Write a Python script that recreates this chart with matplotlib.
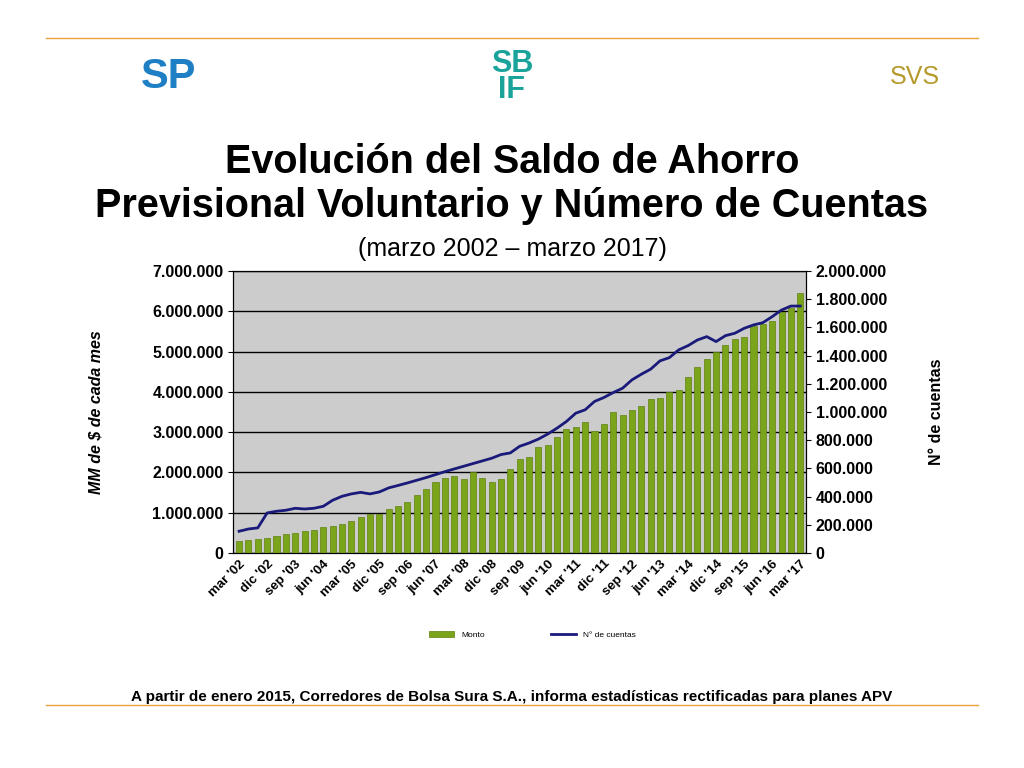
import matplotlib
matplotlib.use("Agg")
import matplotlib.pyplot as plt
import numpy as np
plt.rcParams["font.family"] = "Liberation Sans"

monto = [0.29,0.31,0.35,0.36,0.42,0.47,0.50,0.54,0.58,0.64,0.66,0.71,0.79,0.90,0.97,0.98,
         1.10,1.16,1.26,1.44,1.58,1.76,1.86,1.91,1.84,2.02,1.86,1.76,1.84,2.08,2.33,
         2.38,2.63,2.69,2.87,3.09,3.14,3.26,3.02,3.21,3.49,3.43,3.56,3.66,3.83,3.86,3.99,
         4.05,4.36,4.63,4.81,4.98,5.17,5.31,5.36,5.64,5.68,5.76,5.99,6.09,6.46]
monto = [v*1e6 for v in monto]
cuentas = [154,170,178,284,296,303,317,312,317,331,374,402,419,430,419,433,462,479,497,516,
           535,556,577,596,615,634,653,672,698,710,
           757,780,808,844,886,933,992,1016,1075,1103,1138,1169,1228,1268,1304,1363,1386,
           1441,1471,1511,1535,1500,1542,1559,1594,1618,1634,1677,1724,1752,1752]
cuentas = [v*1e3 for v in cuentas]
months = ["mar","jun","sep","dic"]
labels = [f"{months[i%4]} '{(2+i//4):02d}" for i in range(len(monto))]

def fmt(v):
    return f"{int(v):,}".replace(",", ".")

fig = plt.figure(figsize=(10.24,7.68), dpi=100)
fig.add_artist(plt.Line2D([0.045,0.955],[0.951,0.951],color="#e8a33a",lw=1))
fig.add_artist(plt.Line2D([0.045,0.955],[0.082,0.082],color="#e8a33a",lw=1))
fig.text(0.165,0.9,"SP",fontsize=30,fontweight="bold",color="#1f7fc4",ha="center",va="center")
fig.text(0.5,0.9,"SB\nIF",fontsize=22,fontweight="bold",color="#1aa39b",ha="center",va="center",linespacing=0.8)
fig.text(0.893,0.9,"SVS",fontsize=18,color="#b59a2a",ha="center",va="center")
fig.text(0.5,0.761,"Evolución del Saldo de Ahorro\nPrevisional Voluntario y Número de Cuentas",
         fontsize=28.5,fontweight="bold",ha="center",va="center",linespacing=1.2)
fig.text(0.5,0.676,"(marzo 2002 – marzo 2017)",fontsize=18,ha="center",va="center")
fig.text(0.5,0.092,"A partir de enero 2015, Corredores de Bolsa Sura S.A., informa estadísticas rectificadas para planes APV",
         fontsize=11,fontweight="bold",ha="center",va="center")

ax = fig.add_axes([0.228,0.28,0.559,0.367])
ax.set_facecolor("#cccccc")
x = np.arange(len(monto))
ax.bar(x, monto, width=0.65, color="#7aa51a", edgecolor="#5f8010", lw=0.5, label="Monto", zorder=3)
ax.set_ylim(0,7e6)
ax.set_xlim(-0.6,len(monto)-0.4)
ax.set_yticks(np.arange(0,7.01e6,1e6))
ax.set_yticklabels([fmt(v) for v in np.arange(0,7.01e6,1e6)],fontsize=11.5,fontweight="bold")
ax.grid(axis="y",color="black",lw=1,zorder=1)
ax.set_xticks(x[::3])
ax.set_xticklabels(labels[::3],rotation=45,ha="right",fontsize=9.5,fontweight="bold",rotation_mode="anchor")
ax.tick_params(axis="x",length=0)
ax.set_ylabel("MM de $ de cada mes",fontsize=11.5,fontweight="bold",style="italic",labelpad=35)
ax2 = ax.twinx()
ax2.plot(x, cuentas, color="#1a1a7a", lw=2, label="N° de cuentas")
ax2.set_ylim(0,2e6)
ax2.set_yticks(np.arange(0,2.01e6,2e5))
ax2.set_yticklabels([fmt(v) for v in np.arange(0,2.01e6,2e5)],fontsize=11.5,fontweight="bold")
ax2.set_ylabel("N° de cuentas",fontsize=11.5,fontweight="bold",labelpad=30)
h1,l1 = ax.get_legend_handles_labels(); h2,l2 = ax2.get_legend_handles_labels()
fig.legend(h1+h2,l1+l2,loc="center",bbox_to_anchor=(0.52,0.173),ncol=2,frameon=False,fontsize=6,
           handlelength=3,columnspacing=8)
fig.savefig("out.png",dpi=100)
